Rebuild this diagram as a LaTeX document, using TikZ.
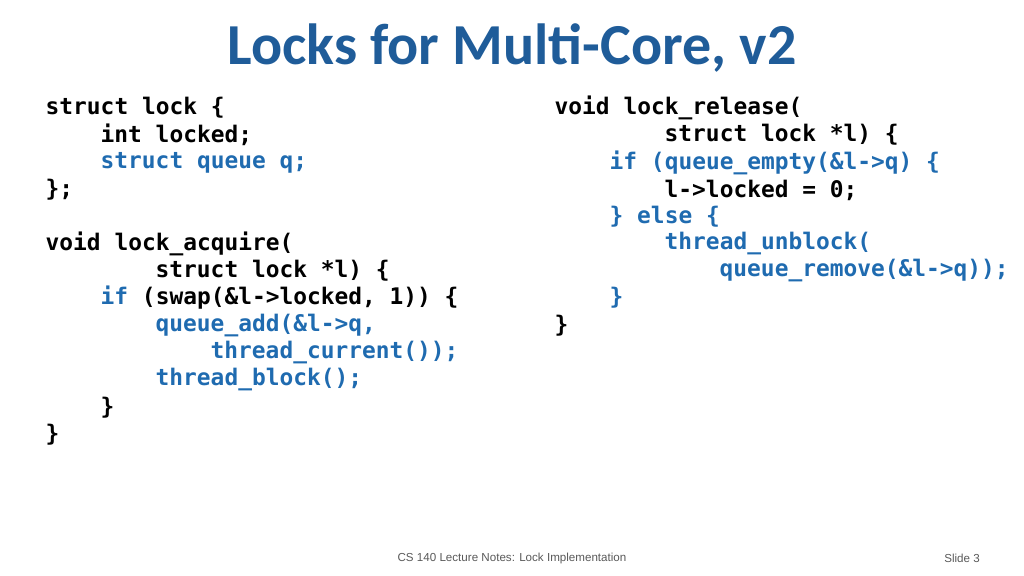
\documentclass[tikz,border=0pt]{standalone}
\usepackage{fontspec}
\setmainfont{Carlito}
\setmonofont{DejaVu Sans Mono}
\newfontfamily\footfont{Liberation Sans}
\usetikzlibrary{positioning}
\definecolor{titleblue}{HTML}{1F5C99}
\definecolor{codeblue}{HTML}{1F6BB0}
\begin{document}
\begin{tikzpicture}[
			x=0.01cm,y=-0.01cm,
			code/.style={anchor=west,inner sep=0,font=\ttfamily\bfseries\fontsize{6.5}{7}\selectfont},
			kw/.style={code,text=codeblue},
			foot/.style={inner sep=0,text=gray!70!black,font=\footfont\fontsize{3.3}{4}\selectfont}
		]
		\useasboundingbox (0,0) rectangle (1024,576);
		\node[inner sep=0,text=titleblue,font=\bfseries\fontsize{16.5}{18}\selectfont] (title) at (512,48) {Locks for Multi-Core, v2};
		% left column
		\node[code] (a1)  at (45,108) {struct lock \{};
		\node[code] (a2)  at (100,135) {int locked;};
		\node[kw]   (a3)  at (100,163) {struct queue q;};
		\node[code] (a4)  at (45,190) {\};};
		\node[code] (a5)  at (45,244) {void lock\_acquire(};
		\node[code] (a6)  at (155,271) {struct lock *l) \{};
		\node[code] (a7)  at (100,298) {\textcolor{codeblue}{if} (swap(\&l->locked, 1)) \{};
		\node[kw]   (a8)  at (155,326) {queue\_add(\&l->q,};
		\node[kw]   (a9)  at (210,353) {thread\_current());};
		\node[kw]   (a10) at (155,380) {thread\_block();};
		\node[code] (a11) at (100,408) {\}};
		\node[code] (a12) at (45,435) {\}};
		% right column
		\node[code] (b1) at (554,108) {void lock\_release(};
		\node[code] (b2) at (664,135) {struct lock *l) \{};
		\node[kw]   (b3) at (609,163) {if (queue\_empty(\&l->q) \{};
		\node[code] (b4) at (664,190) {l->locked = 0;};
		\node[kw]   (b5) at (609,217) {\} else \{};
		\node[kw]   (b6) at (664,244) {thread\_unblock(};
		\node[kw]   (b7) at (719,271) {queue\_remove(\&l->q));};
		\node[kw]   (b8) at (609,298) {\}};
		\node[code] (b9) at (554,326) {\}};
		% footer
		\node[foot] (notes) at (512,558) {CS 140 Lecture Notes: Lock Implementation};
		\node[foot] (slide) at (962,558) {Slide 3};
	\end{tikzpicture}
\end{document}
